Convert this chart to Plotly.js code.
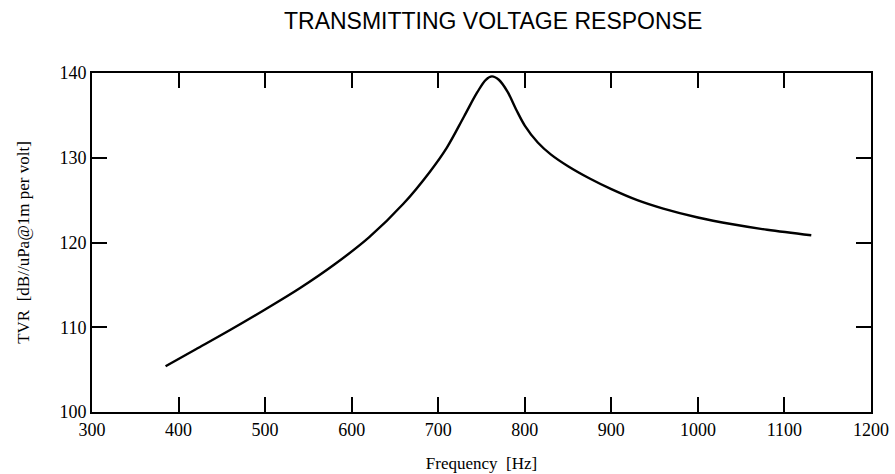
<!DOCTYPE html>
<html>
<head>
<meta charset="utf-8">
<script src="https://cdn.plot.ly/plotly-3.0.1.min.js"></script>
<style>html,body{margin:0;padding:0;background:#fff;}#chart{width:895px;height:474px;}</style>
</head>
<body>
<div id="chart"></div>
<script>
const frequencyHz = [385, 420, 460, 500, 540, 580, 620, 660, 690, 710, 730, 745, 755, 762, 770, 780, 790, 800, 815, 830, 850, 875, 900, 930, 960, 1000, 1040, 1080, 1131];
const tvrDb = [105.4, 107.4, 109.7, 112.1, 114.6, 117.4, 120.6, 124.6, 128.3, 131.2, 134.9, 137.7, 139.2, 139.6, 139.2, 137.8, 135.7, 133.8, 131.8, 130.4, 129.0, 127.55, 126.3, 125.0, 124.0, 122.95, 122.15, 121.5, 120.85];
const xTicks = [300, 400, 500, 600, 700, 800, 900, 1000, 1100, 1200];
const yTicks = [100, 110, 120, 130, 140];
const chartTitle = "TRANSMITTING VOLTAGE RESPONSE";
const xTitle = "Frequency&nbsp;&nbsp;[Hz]";
const yTitle = "TVR&nbsp;&nbsp;[dB//uPa@1m per volt]";

const serif = "Liberation Serif, Times New Roman, serif";
const axisCommon = {
  showgrid: false, zeroline: false, showline: true, linecolor: "#000", linewidth: 2,
  mirror: "ticks", ticks: "inside", ticklen: 15, tickwidth: 2, tickcolor: "#000",
  tickfont: {family: serif, size: 18, color: "#000"}
};
Plotly.newPlot("chart", [{
  x: frequencyHz, y: tvrDb, type: "scatter", mode: "lines",
  line: {color: "#000", width: 2.4, shape: "spline", smoothing: 1},
  hoverinfo: "skip"
}], {
  width: 895, height: 474,
  margin: {l: 92, r: 24, t: 73, b: 62},
  paper_bgcolor: "#fff", plot_bgcolor: "#fff",
  showlegend: false,
  title: {text: chartTitle, x: 0.551, xanchor: "center", y: 0.955, yanchor: "middle",
          font: {family: "Liberation Sans, Arial, sans-serif", size: 23, color: "#000"}},
  xaxis: Object.assign({}, axisCommon, {
    range: [300, 1200], tickvals: xTicks, ticktext: xTicks.map(String),
    title: {text: xTitle, font: {family: serif, size: 17, color: "#000"}, standoff: 19}
  }),
  yaxis: Object.assign({}, axisCommon, {
    range: [100, 140], tickvals: yTicks, ticktext: yTicks.map(String),
    title: {text: yTitle, font: {family: serif, size: 17, color: "#000"}, standoff: 25}
  })
}, {displayModeBar: false, staticPlot: true});
</script>
</body>
</html>
